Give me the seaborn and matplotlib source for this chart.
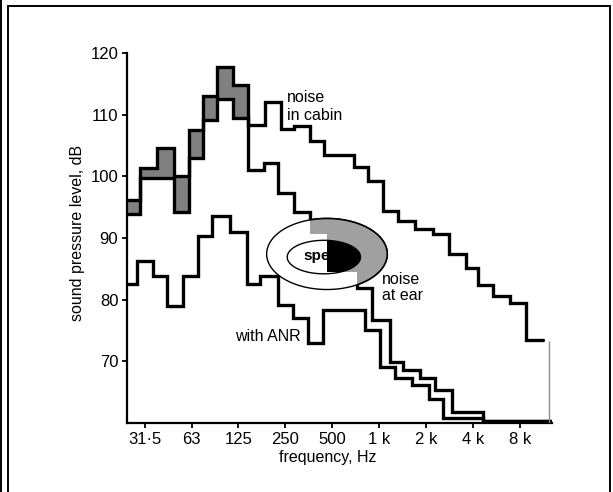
import numpy as np
import matplotlib
matplotlib.use('Agg')
import matplotlib.pyplot as plt
from matplotlib.patches import Polygon
from matplotlib.lines import Line2D
from matplotlib.ticker import NullLocator
import seaborn as sns

# step edges (Hz) and band levels (dB)
cabin_edges = [24.3, 29.3, 37.6, 48.3, 60.3, 74.5, 91.2, 116.4, 144.8, 185.2, 234.6,
               284.2, 360, 442.7, 689.3, 851, 1062, 1326, 1704, 2222, 2823, 3601,
               4319, 5390, 6895, 8694, 11274]
cabin_db = [96.2, 101.3, 104.6, 100.0, 107.5, 113.1, 117.8, 114.8, 108.4, 112.1,
            107.7, 108.2, 105.8, 103.4, 101.5, 99.3, 94.4, 92.7, 91.5, 90.6, 87.4,
            85.2, 82.4, 80.5, 79.5, 73.5]

ear_edges = [24.3, 29.3, 37.6, 48.3, 60.3, 74.5, 91.2, 116.4, 144.8, 182.5, 225.4,
             284.2, 360, 460.6, 717.3, 895, 1173, 1427, 1826, 2279, 2916, 4649, 12632]
ear_db = [93.9, 99.8, 99.8, 94.3, 103.0, 109.2, 112.6, 109.5, 101.0, 102.1, 97.3,
          94.3, 90.7, 84.5, 81.8, 76.7, 69.9, 68.6, 67.2, 65.3, 61.8, 60.35]

anr_edges = [24.3, 28.2, 35.6, 43.7, 55.4, 69.2, 85.0, 110.5, 141.4, 172.1, 225.4,
             281.3, 351.1, 438.1, 810.8, 1012, 1262, 1635, 2086, 2576, 4649, 12632]
anr_db = [82.6, 86.2, 83.9, 79.0, 83.8, 90.4, 93.5, 91.0, 82.6, 83.8, 79.1, 77.0,
          72.9, 78.3, 75.1, 69.1, 67.3, 66.2, 63.8, 60.7, 60.35]

n_band = 9  # low-frequency bands where cabin/ear range is shaded
cabin_close = (12320, 73.2)

# speech area: centre (Hz, dB), half-width (octaves), half-height (dB)
speech_outer = (462.7, 87.4, 1.284, 5.77)
speech_inner = (442.0, 86.9, 0.78, 2.72)

xticks = [31.5, 63, 125, 250, 500, 1000, 2000, 4000, 8000]
xtick_labels = ['31·5', '63', '125', '250', '500', '1 k', '2 k', '4 k', '8 k']
yticks = [70, 80, 90, 100, 110, 120]

sns.set_theme(style='ticks')
plt.rcParams['font.family'] = ['Liberation Sans', 'DejaVu Sans']
plt.rcParams.update({'text.color': 'black', 'axes.labelcolor': 'black',
                     'xtick.color': 'black', 'ytick.color': 'black'})

fig = plt.figure(figsize=(6.13, 4.92), dpi=100)
ax = fig.add_axes([0.2077, 0.1409, 0.6928, 0.7508])
ax.set_xscale('log', base=2)


def steps(edges, levels):
    return edges, list(levels) + [levels[-1]]


def ellipse(spec, n=300):
    fc, db0, a, b = spec
    t = np.linspace(0, 2 * np.pi, n)
    return np.column_stack([fc * 2 ** (a * np.cos(t)), db0 + b * np.sin(t)])


# shaded range between cabin and ear levels at low frequency
bx, by1 = steps(cabin_edges[:n_band], cabin_db[:n_band - 1])
_, by2 = steps(ear_edges[:n_band], ear_db[:n_band - 1])
ax.fill_between(bx, by1, by2, step='post', color='#808080', lw=0, zorder=1)

for edges, levels in [(cabin_edges, cabin_db), (ear_edges, ear_db), (anr_edges, anr_db)]:
    x, y = steps(edges, levels)
    sns.lineplot(x=x, y=y, drawstyle='steps-post', estimator=None, sort=False,
                 color='black', lw=2.4, solid_joinstyle='miter', ax=ax, zorder=3)

ax.vlines(cabin_close[0], 60, cabin_close[1], color='0.55', lw=1.0, zorder=3)

# speech ellipse, part above the noise-at-ear curve filled
outer = ellipse(speech_outer)
inner = ellipse(speech_inner)
ax.add_patch(Polygon(outer, closed=True, facecolor='white', edgecolor='black', lw=1.0, zorder=4))
ax.add_patch(Polygon(inner, closed=True, facecolor='white', edgecolor='black', lw=1.0, zorder=4.1))
ax.text(326, 86.5, 'speech', fontsize=11, fontweight='bold', ha='left', va='baseline', zorder=4.5)

sx = np.repeat(ear_edges, 2)[1:-1]
sy = np.repeat(ear_db, 2)
above = np.column_stack([np.r_[sx, sx[-1], sx[0]], np.r_[sy, 130, 130]])
clip = Polygon(above, closed=True, transform=ax.transData)
p1 = Polygon(outer, closed=True, facecolor='#a0a0a0', edgecolor='black', lw=1.2, zorder=5)
p2 = Polygon(inner, closed=True, facecolor='black', edgecolor='black', lw=1.0, zorder=5.1)
for p in (p1, p2):
    ax.add_patch(p)
    p.set_clip_path(clip)

# curve labels
lab = dict(fontsize=11.5, color='black', ha='left', va='baseline')
ax.text(256, 112.1, 'noise', **lab)
ax.text(256, 109.2, 'in cabin', **lab)
ax.text(1042, 82.6, 'noise', **lab)
ax.text(1042, 79.9, 'at ear', **lab)
ax.text(315, 73.2, 'with ANR', fontsize=11.5, color='black', ha='right', va='baseline')

ax.set_xlim(24.3, 12817)
ax.set_ylim(60, 120)
ax.set_xticks(xticks)
ax.set_xticklabels(xtick_labels)
ax.xaxis.set_minor_locator(NullLocator())
ax.set_yticks(yticks)
ax.tick_params(direction='out', length=3.5, width=1.3, color='black',
               labelsize=12, pad=3, labelcolor='black')

sns.despine(ax=ax)
for s in ('left', 'bottom'):
    ax.spines[s].set_linewidth(1.6)
    ax.spines[s].set_color('black')

ax.set_xlabel('frequency, Hz', fontsize=11.5)
ax.set_ylabel('sound pressure level, dB', fontsize=11.5)
ax.xaxis.set_label_coords(0.4726, -0.093)
ax.xaxis.label.set_va('center')
ax.yaxis.set_label_coords(-0.118, 0.515)
ax.yaxis.label.set_va('center')
ax.set_facecolor('white')
fig.patch.set_facecolor('white')

# page frame
for xs, ys in [([1 / 613, 1 / 613], [0, 1]), ([8 / 613, 8 / 613], [0, 1 - 6 / 492]),
               ([8 / 613, 610 / 613], [1 - 6 / 492, 1 - 6 / 492]),
               ([610 / 613, 610 / 613], [0, 1 - 6 / 492])]:
    fig.add_artist(Line2D(xs, ys, transform=fig.transFigure, color='black', lw=1.4))

fig.savefig('out.png', dpi=100)
